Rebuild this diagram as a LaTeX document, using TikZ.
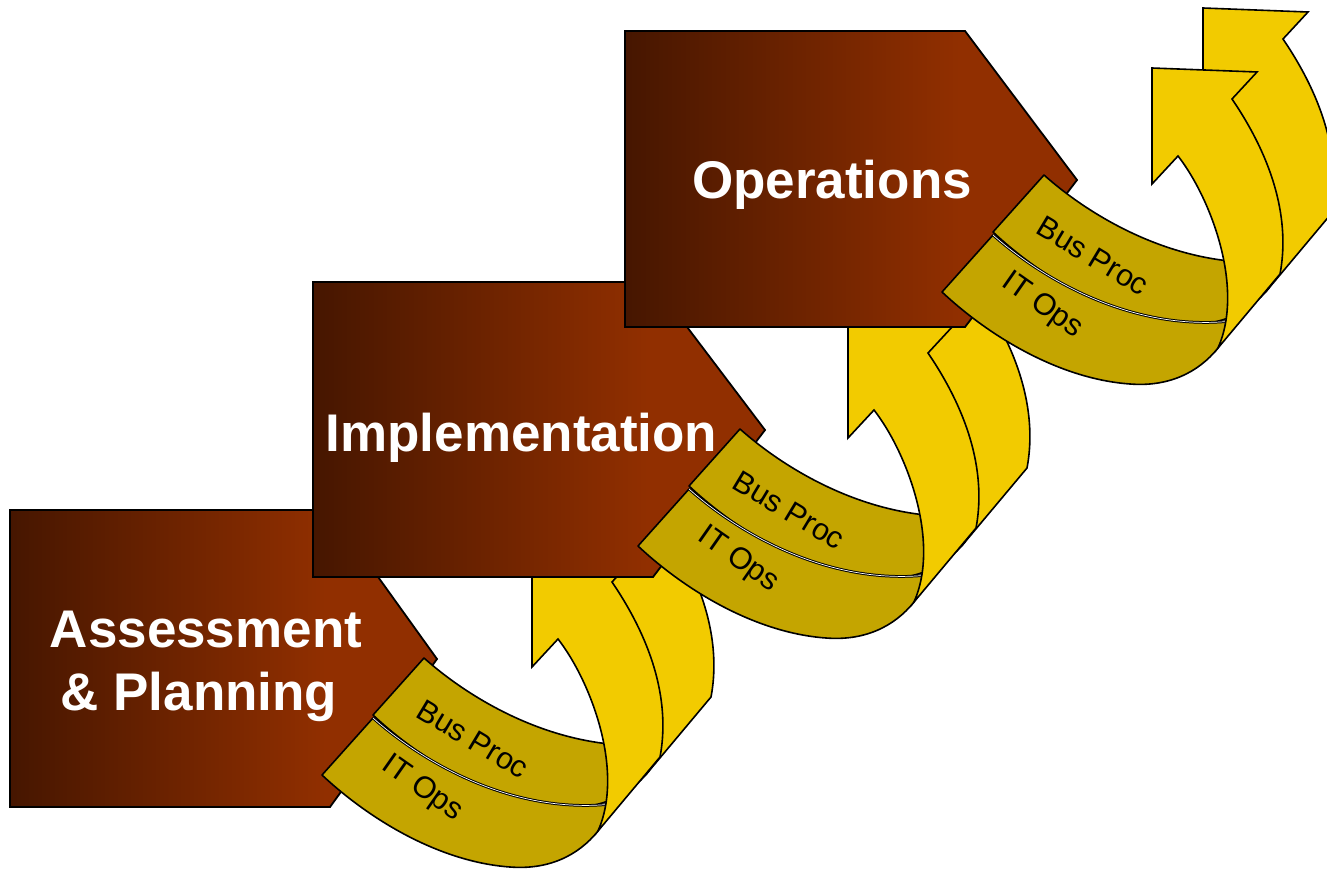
\documentclass[tikz,border=0pt]{standalone}
\usepackage{fontspec}
\setmainfont{Liberation Sans}
\definecolor{bdark}{RGB}{70,22,0}
\definecolor{brust}{RGB}{145,47,0}
\definecolor{ribgold}{RGB}{196,165,0}
\definecolor{ribyellow}{RGB}{242,203,0}
\pgfdeclarehorizontalshading{boxshade}{100bp}{color(0bp)=(bdark); color(25bp)=(bdark); color(62bp)=(brust); color(100bp)=(brust)}
\tikzset{
  stagebox/.style={shade, shading=boxshade, draw=black, line width=1.8pt, line join=miter},
  goldface/.style={draw=black, line width=1.6pt, fill=ribgold, line join=round},
  yellowface/.style={draw=black, line width=1.6pt, fill=ribyellow, line join=miter},
  divider/.style={draw=black, line width=1pt, double=white, double distance=0.7pt},
  titletext/.style={text=white, font=\fontsize{53}{63}\selectfont\bfseries, anchor=base, inner sep=0pt},
  ribtext/.style={text=black, font=\fontsize{30.5}{36}\selectfont, inner sep=0pt},
}
% one ribbon pair (back = Bus Proc, front = IT Ops), shifted by (#1,#2)
\newcommand{\ribbonstage}[3]{%
  \begin{scope}[shift={(#1,#2)}]
    \begin{scope}[shift={(51,-60)}]
      \path[goldface] (322,775) -- (373,718) .. controls (420,760) and (510,815) .. (612,804)
        -- (598,831) .. controls (578,856) and (548,870) .. (510,867)
        .. controls (440,862) and (370,820) .. cycle;
      \path[yellowface] (598,831) -- (660,757) .. controls (667,720) and (665,660) .. (612,582)
        -- (637,555) -- (532,551) -- (532,667) -- (558,639)
        .. controls (590,680) and (625,770) .. cycle;
    \end{scope}
    \path[goldface] (322,775) -- (373,718) .. controls (420,760) and (510,815) .. (612,804)
      -- (598,831) .. controls (578,856) and (548,870) .. (510,867)
      .. controls (440,862) and (370,820) .. cycle;
    \path[divider] (373,718) .. controls (420,760) and (510,815) .. (612,804);
    \path[yellowface] (598,831) -- (660,757) .. controls (667,720) and (665,660) .. (612,582)
      -- (637,555) -- (532,551) -- (532,667) -- (558,639)
      .. controls (590,680) and (625,770) .. cycle;
    \node[ribtext, rotate=-31] (#3bus) at (473,739) {Bus Proc};
    \node[ribtext, rotate=-35] (#3it) at (422,789) {IT Ops};
  \end{scope}}
\begin{document}
\begin{tikzpicture}[x=1pt,y=-1pt]
\useasboundingbox (0,0) rectangle (1327,869);
\clip (0,0) rectangle (1327,869);
\fill[white] (0,0) rectangle (1327,869);
% Stage 1
\path[stagebox] (10,510) -- (330,510) -- (437,659) -- (330,807) -- (10,807) -- cycle;
\node[titletext] (assessTitleA) at (206,647) {Assessment};
\node[titletext] (assessTitleB) at (199,710) {\& Planning};
\ribbonstage{0}{0}{a}
% Stage 2
\path[stagebox] (313,282) -- (653,282) -- (765,430) -- (653,577) -- (313,577) -- cycle;
\node[titletext] (implTitle) at (521.5,451) {Implementation};
\ribbonstage{316}{-229}{b}
% Stage 3
\path[stagebox] (625,31) -- (965,31) -- (1077,180) -- (965,327) -- (625,327) -- cycle;
\node[titletext] (opsTitle) at (832,199) {Operations};
\ribbonstage{620}{-483}{c}
\end{tikzpicture}
\end{document}
